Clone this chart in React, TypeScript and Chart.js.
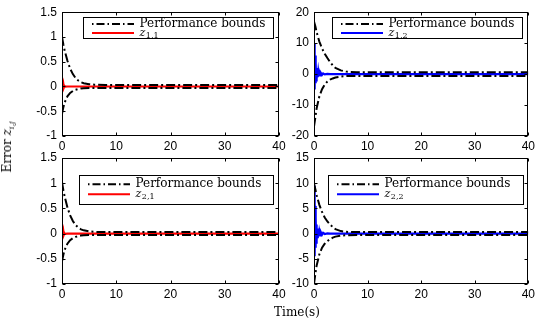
import React, { useEffect, useRef } from "react";
import { Chart, registerables } from "chart.js";
Chart.register(...registerables);

// ---------- data ----------
const xTicks = [0, 10, 20, 30, 40];
const yTicksSmall = [-1, -0.5, 0, 0.5, 1, 1.5];
const yTicks12 = [-20, -10, 0, 10, 20];
const yTicks22 = [-10, -5, 0, 5, 10, 15];

const boundTime = [0, 0.25, 0.5, 1, 1.5, 2, 2.5, 3, 3.5, 4, 5, 6, 8, 10, 20, 30, 40];

const upper11 = [1.0, 0.85, 0.72, 0.52, 0.36, 0.25, 0.17, 0.12, 0.085, 0.065, 0.045, 0.035, 0.03, 0.03, 0.03, 0.03, 0.03];
const lower11 = [-0.55, -0.42, -0.32, -0.2, -0.13, -0.09, -0.065, -0.05, -0.04, -0.035, -0.03, -0.03, -0.03, -0.03, -0.03, -0.03, -0.03];
const upper21 = [1.02, 0.86, 0.73, 0.52, 0.36, 0.25, 0.17, 0.12, 0.085, 0.065, 0.045, 0.035, 0.03, 0.03, 0.03, 0.03, 0.03];
const lower21 = [-0.55, -0.42, -0.32, -0.2, -0.13, -0.09, -0.065, -0.05, -0.04, -0.035, -0.03, -0.03, -0.03, -0.03, -0.03, -0.03, -0.03];
const upper12 = [17, 15.5, 13.5, 10.5, 8.3, 6.6, 5.2, 3.9, 2.8, 2.0, 1.2, 0.8, 0.6, 0.6, 0.6, 0.6, 0.6];
const lower12 = [-17, -14, -11, -7.2, -4.9, -3.4, -2.4, -1.8, -1.4, -1.1, -0.8, -0.65, -0.6, -0.6, -0.6, -0.6, -0.6];
const upper22 = [10, 8.8, 7.6, 5.7, 4.3, 3.2, 2.4, 1.8, 1.3, 0.9, 0.5, 0.35, 0.3, 0.3, 0.3, 0.3, 0.3];
const lower22 = [-10, -8, -6.3, -4.1, -2.8, -2.0, -1.5, -1.1, -0.8, -0.6, -0.4, -0.32, -0.3, -0.3, -0.3, -0.3, -0.3];

const redTime = [0, 0.1, 0.18, 0.26, 0.34, 0.45, 0.6, 1, 40];
const z11 = [0.1, 0.09, -0.04, 0.04, -0.02, 0.01, -0.004, 0, 0];
const z21 = [0.1, 0.09, -0.05, 0.04, -0.02, 0.01, -0.004, 0, 0];

const blueTime = [0, 0.08, 0.16, 0.22, 0.28, 0.34, 0.4, 0.46, 0.52, 0.6, 0.7, 0.8, 0.9, 1.0, 1.15, 1.3, 1.5, 1.7, 2.0, 2.5, 3, 40];
const z12 = [10, 9, -5, 6, -3, 3.5, -2, 2, -1.5, 1.2, -1, 0.8, -0.6, 0.5, -0.4, 0.3, -0.25, 0.2, -0.1, 0.05, 0, 0];
const z22 = [9.5, 8.5, -4.5, 5.5, -2.8, 3.2, -1.8, 1.8, -1.3, 1.0, -0.9, 0.7, -0.5, 0.45, -0.35, 0.25, -0.2, 0.15, -0.08, 0.03, 0, 0];

const boundLabel = "Performance bounds";

// ---------- layout ----------
const W = 538;
const H = 324;
const Y_AXIS_W = 44;
const X_AXIS_H = 20;
const TICK_FONT = { family: "Liberation Sans", size: 12 };
const SERIF = '"DejaVu Serif"';

type Panel = {
  area: { l: number; t: number; r: number; b: number };
  yMin: number;
  yMax: number;
  yTicks: number[];
  upper: number[];
  lower: number[];
  sigTime: number[];
  sig: number[];
  color: string;
  sub: string;
  legend: { right: number; top: number; width: number; height: number; row1: number; row2: number };
};

const panels: Panel[] = [
  {
    area: { l: 62, t: 8, r: 279, b: 136 },
    yMin: -1, yMax: 1.5, yTicks: yTicksSmall,
    upper: upper11, lower: lower11, sigTime: redTime, sig: z11, color: "#ff0000", sub: "1,1",
    legend: { right: 6, top: 5, width: 190, height: 21, row1: 6.5, row2: 15.5 },
  },
  {
    area: { l: 314, t: 8, r: 530, b: 136 },
    yMin: -20, yMax: 20, yTicks: yTicks12,
    upper: upper12, lower: lower12, sigTime: blueTime, sig: z12, color: "#0000ff", sub: "1,2",
    legend: { right: 6, top: 5, width: 190, height: 21, row1: 6.5, row2: 15.5 },
  },
  {
    area: { l: 62, t: 158, r: 279, b: 284 },
    yMin: -1, yMax: 1.5, yTicks: yTicksSmall,
    upper: upper21, lower: lower21, sigTime: redTime, sig: z21, color: "#ff0000", sub: "2,1",
    legend: { right: 6, top: 16.5, width: 194, height: 29, row1: 8.8, row2: 18.8 },
  },
  {
    area: { l: 314, t: 158, r: 530, b: 284 },
    yMin: -10, yMax: 15, yTicks: yTicks22,
    upper: upper22, lower: lower22, sigTime: blueTime, sig: z22, color: "#0000ff", sub: "2,2",
    legend: { right: 5, top: 16.5, width: 195, height: 29, row1: 8.8, row2: 18.8 },
  },
];

const fmt = (v: number) => (v < 0 ? "-" + String(Math.abs(v)) : String(v));

function makeFramePlugin(p: Panel) {
  return {
    id: "matlabFrame",
    afterDatasetsDraw(chart: any) {
      const { ctx, chartArea: a, scales } = chart;
      ctx.save();
      ctx.strokeStyle = "#000";
      ctx.lineWidth = 1;
      ctx.setLineDash([]);
      const L = Math.round(a.left) + 0.5;
      const R = Math.round(a.right) - 0.5;
      const T = Math.round(a.top) + 0.5;
      const B = Math.round(a.bottom) - 0.5;
      ctx.strokeRect(L, T, R - L, B - T);
      const tl = 3;
      ctx.beginPath();
      for (const t of scales.x.ticks) {
        const px = Math.round(scales.x.getPixelForValue(t.value)) + 0.5;
        ctx.moveTo(px, B); ctx.lineTo(px, B - tl);
        ctx.moveTo(px, T); ctx.lineTo(px, T + tl);
      }
      for (const t of scales.y.ticks) {
        const py = Math.round(scales.y.getPixelForValue(t.value)) + 0.5;
        ctx.moveTo(L, py); ctx.lineTo(L + tl, py);
        ctx.moveTo(R, py); ctx.lineTo(R - tl, py);
      }
      ctx.stroke();

      // legend box
      const lg = p.legend;
      const x0 = Math.round(a.right - lg.right - lg.width) + 0.5;
      const y0 = Math.round(a.top + lg.top) + 0.5;
      ctx.fillStyle = "#fff";
      ctx.fillRect(x0, y0, lg.width, lg.height);
      ctx.strokeRect(x0, y0, lg.width, lg.height);
      const r1 = y0 + lg.row1;
      const r2 = y0 + lg.row2;
      ctx.lineWidth = 2;
      ctx.strokeStyle = "#000";
      ctx.setLineDash([1.5, 3, 8, 3]);
      ctx.beginPath();
      ctx.moveTo(x0 + 8.5, r1); ctx.lineTo(x0 + 50.5, r1);
      ctx.stroke();
      ctx.setLineDash([]);
      ctx.strokeStyle = p.color;
      ctx.beginPath();
      ctx.moveTo(x0 + 8.5, r2); ctx.lineTo(x0 + 50.5, r2);
      ctx.stroke();
      ctx.fillStyle = "#000";
      ctx.textBaseline = "middle";
      ctx.textAlign = "left";
      ctx.font = `12px ${SERIF}`;
      ctx.fillText(boundLabel, x0 + 56, r1);
      ctx.font = `italic 11px ${SERIF}`;
      ctx.fillText("z", x0 + 56, r2);
      const zw = ctx.measureText("z").width;
      ctx.font = `8px ${SERIF}`;
      ctx.fillText(p.sub, x0 + 56 + zw + 0.5, r2 + 2.5);
      ctx.restore();
    },
  };
}

function buildConfig(p: Panel): any {
  const pts = (ts: number[], vs: number[]) => ts.map((t, i) => ({ x: t, y: vs[i] }));
  return {
    type: "line",
    data: {
      datasets: [
        {
          label: boundLabel,
          data: pts(boundTime, p.upper),
          borderColor: "#000", borderWidth: 2, borderDash: [9, 3, 2, 3],
          pointRadius: 0, tension: 0, order: 0,
        },
        {
          label: boundLabel + " (lower)",
          data: pts(boundTime, p.lower),
          borderColor: "#000", borderWidth: 2, borderDash: [9, 3, 2, 3],
          pointRadius: 0, tension: 0, order: 0,
        },
        {
          label: "z" + p.sub,
          data: pts(p.sigTime, p.sig),
          borderColor: p.color, borderWidth: 2.2,
          pointRadius: 0, tension: 0, order: 1,
        },
      ],
    },
    options: {
      animation: false,
      responsive: false,
      devicePixelRatio: 1,
      events: [],
      layout: {
        padding: {
          left: p.area.l - Y_AXIS_W,
          top: p.area.t,
          right: W - p.area.r,
          bottom: H - p.area.b - X_AXIS_H,
        },
      },
      plugins: { legend: { display: false }, tooltip: { enabled: false }, title: { display: false } },
      scales: {
        x: {
          type: "linear", min: 0, max: 40,
          afterBuildTicks: (s: any) => { s.ticks = xTicks.map((v) => ({ value: v })); },
          afterFit: (s: any) => { s.height = X_AXIS_H; },
          grid: { display: false, drawTicks: false },
          border: { display: false },
          ticks: { font: TICK_FONT, color: "#000", padding: 3, maxRotation: 0, autoSkip: false, callback: (v: number) => fmt(v) },
        },
        y: {
          type: "linear", min: p.yMin, max: p.yMax,
          afterBuildTicks: (s: any) => { s.ticks = p.yTicks.map((v) => ({ value: v })); },
          afterFit: (s: any) => { s.width = Y_AXIS_W; },
          grid: { display: false, drawTicks: false },
          border: { display: false },
          ticks: { font: TICK_FONT, color: "#000", padding: 5, autoSkip: false, callback: (v: number) => fmt(v) },
        },
      },
    },
    plugins: [makeFramePlugin(p)],
  };
}

function PanelChart({ p }: { p: Panel }) {
  const ref = useRef<HTMLCanvasElement>(null);
  useEffect(() => {
    if (!ref.current) return;
    const chart = new Chart(ref.current, buildConfig(p));
    return () => chart.destroy();
  }, [p]);
  return (
    <canvas
      ref={ref}
      width={W}
      height={H}
      style={{ position: "absolute", left: 0, top: 0, width: W, height: H }}
    />
  );
}

export default function App() {
  return (
    <div style={{ position: "fixed", left: 0, top: 0, width: W, height: H, background: "#fff", overflow: "hidden" }}>
      {panels.map((p, i) => (
        <PanelChart key={i} p={p} />
      ))}
      <div
        style={{
          position: "absolute", left: 8, top: 147,
          transform: "translate(-50%, -50%) rotate(-90deg)",
          whiteSpace: "nowrap", fontFamily: SERIF, fontSize: 12, lineHeight: "14px", color: "#000",
        }}
      >
        Error <i>z</i>
        <i style={{ fontSize: 8, position: "relative", top: 3 }}>i,j</i>
      </div>
      <div
        style={{
          position: "absolute", left: 297, top: 312,
          transform: "translate(-50%, -50%)",
          whiteSpace: "nowrap", fontFamily: SERIF, fontSize: 12, lineHeight: "14px", color: "#000",
        }}
      >
        Time(s)
      </div>
    </div>
  );
}
